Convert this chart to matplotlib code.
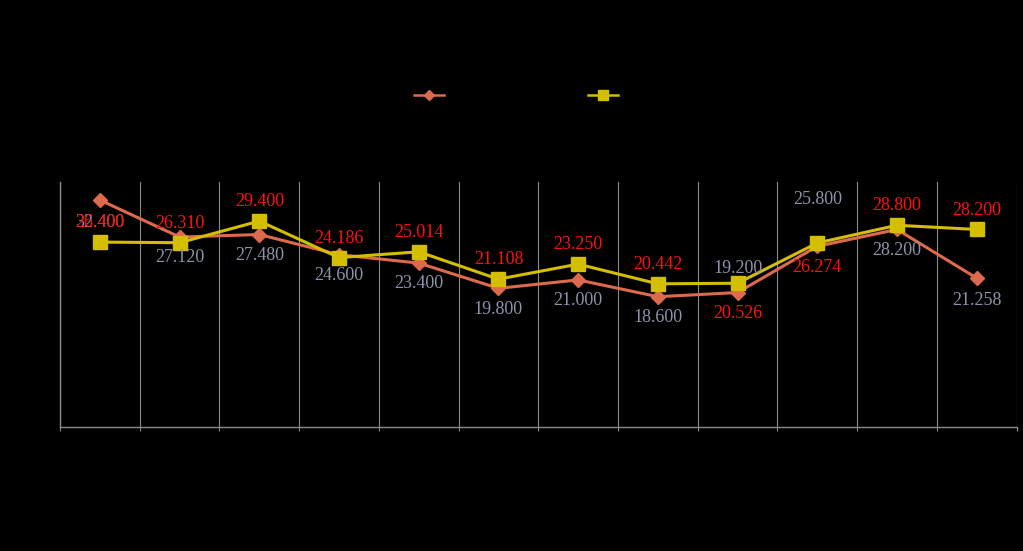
import matplotlib
matplotlib.use("Agg")
import matplotlib.pyplot as plt
import numpy as np

# данные
categories = ["1", "2", "3", "4", "5", "6", "7", "8", "9", "10", "11", "12"]
series_a = [32.400, 27.120, 27.480, 24.600, 23.400, 19.800, 21.000, 18.600, 19.200, 25.800, 28.200, 21.258]
series_b = [26.400, 26.310, 29.400, 24.186, 25.014, 21.108, 23.250, 20.442, 20.526, 26.274, 28.800, 28.200]
legend_names = ["Series 1", "Series 2"]

# смещения подписей (в точках)
off_a = [-16, -15, -15, -15, -15, -15, -15, -15, 17, 34, -15, -16]
off_b = [14, 14, 14, 14, 14, 14, 14, 14, -22, -18, 14, 14]

col_a = "#DD6A4C"
col_b = "#D4BE00"
lab_a = "#8E93AC"
lab_b = "#FF1010"
grid_col = "#8A8A8A"

plt.rcParams['font.family'] = ['Liberation Serif', 'DejaVu Serif']

fig = plt.figure(figsize=(10.23, 5.51), dpi=100, facecolor="black")
ax = fig.add_axes([0.0587, 0.225, 0.935, 0.445], facecolor="black")

x = np.arange(len(categories))
ax.plot(x, series_a, color=col_a, lw=2.2, marker="D", ms=7, label=legend_names[0], zorder=3)
ax.plot(x, series_b, color=col_b, lw=2.2, marker="s", ms=10, label=legend_names[1], zorder=4)

for xi, v, o in zip(x, series_a, off_a):
    ax.annotate(f"{v:.3f}", (xi, v), xytext=(0, o), textcoords="offset points",
                ha="center", va="center", color=lab_a, fontsize=13, zorder=5)
for xi, v, o in zip(x, series_b, off_b):
    ax.annotate(f"{v:.3f}", (xi, v), xytext=(0, o), textcoords="offset points",
                ha="center", va="center", color=lab_b, fontsize=13, zorder=5)

ax.set_xlim(-0.5, len(categories) - 0.5)
ax.set_ylim(0, 35)
ax.set_xticks(np.arange(-0.5, len(categories), 1.0))
ax.set_xticklabels([])
ax.tick_params(axis="x", length=3, color=grid_col)
ax.set_yticks([])
ax.grid(axis="x", color=grid_col, lw=0.8)
for s in ["top", "right"]:
    ax.spines[s].set_visible(False)
for s in ["left", "bottom"]:
    ax.spines[s].set_color(grid_col)
    ax.spines[s].set_linewidth(1.0)

leg = fig.legend(loc="center", bbox_to_anchor=(0.534, 0.825), ncol=2, frameon=False,
                 handlelength=2.0, columnspacing=5.4, fontsize=11, markerscale=0.7)
for line in leg.get_lines():
    line.set_linewidth(1.8)
for t in leg.get_texts():
    t.set_color("black")

fig.savefig("out.png", facecolor="black")
